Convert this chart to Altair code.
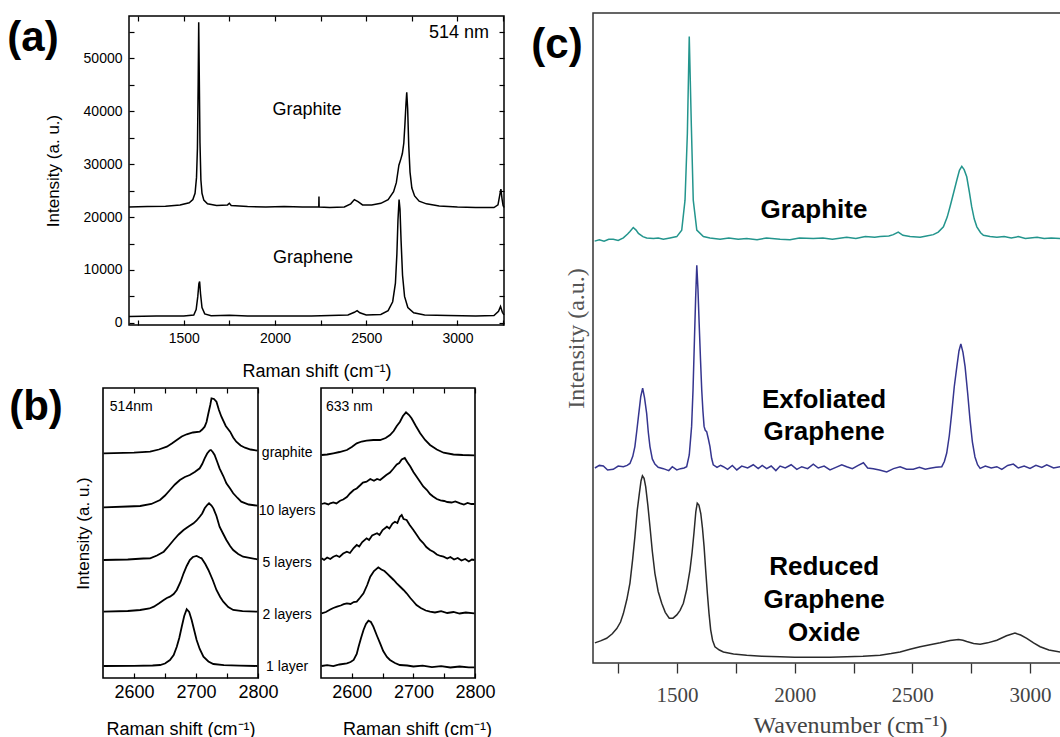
import altair as alt
import pandas as pd

SANS = "Liberation Sans"
SERIF = "Liberation Serif"

# ---------------- Panel (a): 514 nm spectra ----------------
a_graphite = [(1200, 21900), (1300, 22000), (1400, 22050), (1480, 22300), (1530, 22700), (1550, 23300),
              (1562, 24500), (1570, 27500), (1575, 33000), (1579, 45000), (1582, 56800), (1585, 47000),
              (1589, 34000), (1594, 27000), (1600, 24500), (1610, 23200), (1630, 22500), (1680, 22200),
              (1740, 22300), (1750, 22600), (1760, 22200), (1850, 22000), (1950, 21900), (2050, 22000),
              (2150, 21900), (2240, 21900), (2241, 23900), (2242, 21900), (2300, 21800), (2380, 21900),
              (2415, 22500), (2435, 23300), (2455, 22900), (2480, 22300), (2530, 22300), (2580, 22600),
              (2620, 23300), (2650, 24800), (2665, 26500), (2679, 29800), (2690, 31000), (2698, 32000),
              (2706, 34000), (2712, 37500), (2718, 41500), (2722, 43600), (2727, 40500), (2733, 33500),
              (2740, 28500), (2750, 25500), (2765, 24000), (2790, 23000), (2830, 22500), (2900, 22100),
              (3000, 21900), (3100, 21800), (3200, 21800), (3222, 22300), (3232, 24200), (3238, 25300),
              (3244, 23500), (3250, 22200), (3255, 21800)]
a_graphene = [(1200, 1200), (1350, 1300), (1500, 1300), (1555, 1500), (1568, 2500), (1577, 5000),
              (1583, 7400), (1587, 7800), (1592, 5500), (1600, 2900), (1615, 1700), (1650, 1350),
              (1750, 1450), (1850, 1300), (2000, 1300), (2200, 1300), (2400, 1500), (2435, 2000),
              (2450, 2300), (2465, 1900), (2500, 1500), (2580, 1600), (2620, 2300), (2645, 4000),
              (2660, 7500), (2668, 13000), (2674, 19500), (2680, 23300), (2685, 21500), (2691, 15500),
              (2699, 9000), (2710, 5000), (2728, 2900), (2760, 1900), (2820, 1500), (2950, 1400),
              (3100, 1300), (3200, 1400), (3225, 2200), (3236, 3100), (3246, 2000), (3255, 1500)]
a_labels = [("514 nm", 3008, 54790), ("Graphite", 2175, 40220), ("Graphene", 2208, 12270)]
a_xticks = [1250, 1500, 1750, 2000, 2250, 2500, 2750, 3000, 3250]
a_yticks = [0, 5000, 10000, 15000, 20000, 25000, 30000, 35000, 40000, 45000, 50000, 55000]

# ---------------- Panel (b): 2D band, 514 nm and 633 nm ----------------
b514 = {
    "graphite": [(2551, 224.7), (2600, 225.3), (2626, 226.3), (2640, 228.5), (2653, 231.3), (2661, 234.5),
                 (2669, 238), (2677, 241.5), (2685, 243.7), (2695, 245.5), (2706, 246.3), (2710, 248.5),
                 (2714, 251.3), (2717, 256), (2720, 264.7), (2723, 273), (2725, 279.7), (2729, 279),
                 (2733, 276.3), (2737, 268), (2741, 261.3), (2748, 252), (2755, 246.3), (2760, 240.5),
                 (2765, 236.3), (2772, 232.5), (2779, 230.3), (2788, 228.5), (2799, 227.3)],
    "10 layers": [(2551, 170.7), (2590, 171.5), (2610, 172), (2628, 174), (2642, 178), (2650, 182.5),
                  (2658, 188), (2666, 193.5), (2674, 198), (2682, 201), (2690, 203), (2698, 206),
                  (2706, 209.7), (2710, 214), (2714, 219.7), (2718, 224.5), (2722, 227.5), (2724, 228),
                  (2727, 226), (2730, 223), (2734, 216.5), (2738, 209.7), (2744, 202), (2749, 194.7),
                  (2755, 189.5), (2760, 184.7), (2767, 180), (2773, 176.3), (2785, 173.5), (2799, 172.3)],
    "5 layers": [(2551, 118), (2590, 118.5), (2615, 119.5), (2626, 119.7), (2637, 122.5), (2648, 126.3),
                 (2656, 132), (2664, 138), (2672, 143.5), (2680, 148), (2688, 151.5), (2696, 154.7),
                 (2701, 157.5), (2706, 161.3), (2710, 164.5), (2714, 169.7), (2718, 173), (2721, 174.7),
                 (2725, 172.5), (2728, 169.7), (2733, 162), (2738, 151.3), (2744, 144), (2749, 138),
                 (2755, 132), (2760, 128), (2768, 124), (2776, 121.3), (2799, 118.7)],
    "2 layers": [(2551, 66.3), (2590, 67), (2610, 68), (2625, 69.5), (2632, 71.3), (2640, 74.5), (2648, 78),
                 (2653, 80), (2658, 81.3), (2664, 84), (2669, 88), (2675, 96), (2680, 104.7), (2685, 112),
                 (2690, 118), (2695, 121), (2701, 122), (2706, 120.5), (2709, 119.7), (2715, 114),
                 (2720, 108), (2727, 98), (2733, 88), (2739, 81), (2744, 76.3), (2752, 71), (2760, 68),
                 (2775, 66.8), (2799, 66.3)],
    "1 layer": [(2551, 12), (2600, 12.2), (2630, 12.5), (2642, 13), (2650, 14.5), (2658, 18), (2664, 23),
                (2669, 31.3), (2673, 40), (2677, 51.3), (2681, 62), (2685, 68.7), (2689, 66), (2693, 58),
                (2697, 48), (2701, 38), (2706, 29), (2712, 21.3), (2720, 16.5), (2728, 14), (2745, 12.8),
                (2770, 12.3), (2799, 12)],
}
b633 = {
    "graphite": [(2551, 223), (2560, 223.5), (2570, 224.7), (2580, 226), (2592, 228), (2600, 231),
                 (2608, 234.7), (2616, 236.5), (2624, 237.3), (2635, 238), (2646, 238), (2655, 240),
                 (2662, 243), (2668, 247), (2673, 252), (2678, 256), (2683, 262), (2688, 265.7),
                 (2693, 263), (2697, 259.7), (2704, 252), (2711, 244.7), (2719, 238), (2727, 233),
                 (2738, 228.5), (2749, 225.3), (2765, 223.5), (2780, 223), (2799, 222.7)],
    "10 layers": [(2551, 174), (2556, 174.8), (2562, 173.6), (2565, 174.7), (2570, 175.5), (2575, 174.6),
                  (2581, 177.3), (2586, 178.5), (2592, 181), (2597, 184.5), (2603, 188), (2608, 189.5),
                  (2614, 193), (2618, 195.5), (2624, 196.3), (2630, 199), (2636, 197.2), (2641, 199),
                  (2646, 198), (2651, 200.5), (2656, 203), (2662, 205.5), (2667, 209), (2673, 213.5),
                  (2677, 215), (2681, 218.5), (2686, 220), (2690, 216), (2695, 211.5), (2700, 206),
                  (2705, 201.5), (2710, 197), (2716, 191.5), (2722, 188), (2727, 184), (2732, 181.5),
                  (2738, 179), (2744, 177.6), (2750, 177), (2755, 176), (2762, 175.5), (2768, 176.5),
                  (2776, 174.7), (2782, 173.5), (2788, 175), (2794, 174), (2799, 174)],
    "5 layers": [(2551, 119.7), (2555, 118), (2560, 120.5), (2565, 119), (2570, 121.3), (2575, 122.5),
                 (2580, 121), (2586, 124.5), (2592, 126.3), (2597, 125), (2603, 130), (2608, 133),
                 (2612, 131.5), (2617, 136), (2624, 139.7), (2628, 138), (2633, 142.5), (2641, 144.7),
                 (2645, 143), (2650, 148), (2657, 151.3), (2661, 149.5), (2666, 154.5), (2670, 156.3),
                 (2674, 155), (2678, 161.3), (2681, 163), (2684, 159), (2689, 158), (2694, 153),
                 (2700, 148), (2705, 143.5), (2711, 138), (2716, 135), (2721, 131), (2727, 128),
                 (2733, 126), (2738, 123.5), (2744, 122), (2749, 121.3), (2755, 119.5), (2760, 121),
                 (2766, 118.5), (2772, 120), (2778, 117.5), (2784, 119), (2790, 116.5), (2795, 118.5),
                 (2799, 118)],
    "2 layers": [(2551, 64.7), (2558, 66), (2565, 68.5), (2570, 70), (2576, 71.3), (2582, 72.5),
                 (2587, 73.8), (2592, 74.7), (2598, 74), (2603, 76), (2608, 76.3), (2613, 80),
                 (2619, 84.7), (2625, 93), (2630, 101.3), (2636, 107), (2643, 110.7), (2648, 108.5),
                 (2653, 107), (2657, 104.7), (2663, 101), (2668, 98), (2673, 94.7), (2679, 91),
                 (2684, 88), (2689, 84.7), (2695, 80), (2700, 76.5), (2705, 73), (2712, 70), (2720, 67.5),
                 (2727, 66.3), (2735, 65.5), (2745, 66.8), (2755, 65), (2765, 66), (2775, 64.5),
                 (2785, 65.5), (2799, 64.7)],
    "1 layer": [(2551, 12), (2560, 12.8), (2570, 11.8), (2580, 13.5), (2592, 14.7), (2598, 16), (2603, 18),
                (2608, 24), (2611, 31.3), (2615, 40), (2619, 48), (2623, 54), (2627, 57.3), (2631, 56),
                (2635, 51.3), (2641, 42), (2646, 34.7), (2651, 27), (2657, 21), (2662, 18), (2670, 15),
                (2678, 13), (2690, 12.5), (2700, 11.5), (2715, 12.3), (2730, 10.8), (2745, 11.8),
                (2760, 10.5), (2775, 11.5), (2790, 10.7), (2799, 10.7)],
}
b_mid_labels = [("graphite", 2847, 225), ("10 layers", 2847, 167), ("5 layers", 2847, 115),
                ("2 layers", 2847, 63), ("1 layer", 2847, 11)]
b_xticks = [2600, 2650, 2700, 2750, 2800]

# ---------------- Panel (c): graphite / exfoliated graphene / rGO ----------------
c_graphite = [(1150, 64.9), (1170, 65.1), (1190, 64.9), (1210, 65.2), (1229, 65.2), (1250, 65.0), (1272, 65.4),
              (1290, 66.0), (1300, 66.4), (1314, 67.0), (1326, 66.6), (1336, 66.1), (1355, 65.6), (1371, 65.4),
              (1400, 65.3), (1420, 65.4), (1442, 65.2), (1470, 65.4), (1499, 65.6), (1520, 66.6), (1534, 71.2),
              (1544, 81.5), (1552, 96.4), (1561, 82.5), (1569, 71.2), (1584, 66.6), (1612, 65.6), (1640, 65.4),
              (1683, 65.2), (1720, 65.4), (1760, 65.2), (1796, 65.3), (1840, 65.1), (1880, 65.4), (1938, 65.2),
              (1980, 65.1), (2020, 65.4), (2079, 65.3), (2120, 65.4), (2160, 65.2), (2221, 65.5), (2260, 65.3),
              (2300, 65.6), (2340, 65.5), (2363, 65.6), (2400, 65.7), (2419, 65.9), (2440, 66.3), (2460, 65.8),
              (2490, 65.6), (2533, 65.5), (2560, 65.7), (2589, 65.9), (2610, 66.3), (2632, 67.1), (2648, 68.6),
              (2660, 70.2), (2675, 72.3), (2689, 74.3), (2700, 75.8), (2710, 76.4), (2720, 75.9), (2731, 74.8),
              (2742, 72.5), (2752, 70.2), (2763, 68.3), (2774, 67.1), (2790, 66.2), (2802, 65.8), (2830, 65.6),
              (2859, 65.5), (2890, 65.6), (2920, 65.4), (2950, 65.6), (2980, 65.3), (3000, 65.4), (3030, 65.5),
              (3060, 65.3), (3090, 65.4), (3128, 65.3)]
c_exfoliated = [(1151, 30.0), (1170, 30.4), (1187, 30.3), (1205, 29.7), (1229, 29.8), (1250, 30.3), (1272, 30.2),
                (1288, 30.4), (1300, 30.7), (1312, 31.8), (1321, 33.3), (1330, 36.0), (1336, 37.9), (1346, 41.0),
                (1354, 42.3), (1362, 40.8), (1371, 38.4), (1378, 35.5), (1385, 33.3), (1395, 31.4), (1406, 30.6),
                (1420, 30.1), (1442, 29.9), (1465, 29.6), (1480, 30.2), (1499, 29.7), (1515, 29.9), (1530, 30.0),
                (1541, 30.2), (1552, 32.0), (1562, 36.4), (1568, 42.0), (1574, 49.7), (1579, 56.0), (1584, 61.2),
                (1589, 57.5), (1594, 52.3), (1600, 46.5), (1605, 42.0), (1610, 38.8), (1615, 36.4), (1620, 35.8),
                (1626, 35.6), (1633, 34.5), (1640, 33.3), (1647, 31.5), (1654, 30.5), (1670, 30.1), (1685, 30.4),
                (1697, 30.2), (1715, 29.8), (1735, 30.4), (1754, 29.7), (1775, 30.3), (1800, 30.0), (1824, 30.5),
                (1845, 29.9), (1862, 30.4), (1881, 29.9), (1900, 30.3), (1920, 29.6), (1938, 30.3), (1960, 30.0),
                (1985, 30.5), (2009, 29.8), (2030, 30.2), (2055, 29.9), (2079, 30.6), (2100, 30.0), (2125, 30.3),
                (2150, 29.7), (2175, 30.1), (2200, 30.5), (2221, 30.2), (2245, 29.9), (2270, 30.4), (2292, 30.8),
                (2310, 30.0), (2334, 29.9), (2360, 29.7), (2391, 29.4), (2420, 29.9), (2448, 30.2), (2475, 29.8),
                (2504, 29.8), (2530, 30.1), (2555, 29.8), (2575, 29.95), (2600, 30.1), (2625, 30.2), (2636, 31.0),
                (2646, 32.3), (2657, 35.0), (2667, 38.4), (2678, 42.5), (2689, 45.6), (2698, 48.0), (2706, 49.1),
                (2715, 47.8), (2724, 45.6), (2735, 41.5), (2745, 37.4), (2755, 34.0), (2766, 31.7), (2777, 30.5),
                (2788, 29.95), (2810, 30.3), (2835, 30.0), (2859, 30.2), (2880, 29.8), (2905, 30.4), (2929, 30.6),
                (2950, 30.0), (2975, 30.3), (3000, 29.95), (3025, 30.4), (3050, 30.1), (3071, 30.5), (3100, 30.0),
                (3128, 30.2)]
c_rgo = [(1151, 3.1), (1175, 3.4), (1201, 3.8), (1225, 4.5), (1244, 5.3), (1260, 6.3), (1272, 7.6), (1287, 9.8),
         (1300, 12.3), (1311, 15.8), (1321, 19.4), (1331, 23.5), (1340, 26.1), (1347, 28.0), (1353, 28.8),
         (1360, 28.4), (1367, 27.1), (1376, 24.3), (1385, 21.0), (1395, 17.2), (1406, 13.8), (1420, 11.0),
         (1435, 9.2), (1450, 7.8), (1467, 6.9), (1483, 6.9), (1499, 7.4), (1513, 8.1), (1527, 9.2), (1541, 11.3),
         (1555, 14.3), (1564, 17.0), (1572, 20.0), (1580, 23.3), (1586, 24.6), (1593, 24.3), (1601, 23.0),
         (1608, 20.8), (1615, 17.9), (1622, 14.2), (1629, 10.7), (1636, 7.6), (1643, 5.1), (1651, 3.5),
         (1661, 2.5), (1680, 2.0), (1697, 1.7), (1740, 1.4), (1796, 1.2), (1860, 1.05), (1938, 0.97),
         (2000, 0.9), (2079, 0.87), (2150, 0.9), (2221, 0.97), (2290, 1.05), (2363, 1.2), (2410, 1.45),
         (2448, 1.7), (2490, 2.1), (2533, 2.5), (2575, 2.8), (2618, 3.1), (2660, 3.45), (2696, 3.6),
         (2715, 3.5), (2731, 3.3), (2760, 3.0), (2788, 2.9), (2820, 3.1), (2859, 3.5), (2900, 4.2),
         (2936, 4.6), (2960, 4.3), (2986, 3.8), (3015, 3.1), (3043, 2.5), (3080, 2.0), (3128, 1.7)]
c_labels = [("Graphite", 2082, 69.7), ("Exfoliated", 2125, 40.5), ("Graphene", 2125, 35.5),
            ("Reduced", 2125, 14.8), ("Graphene", 2125, 9.7), ("Oxide", 2125, 4.6)]
c_series = ["Graphite", "Exfoliated Graphene", "Reduced Graphene Oxide"]
c_colors = ["#23958d", "#35358f", "#2a2a2a"]
c_xticks = [1250, 1500, 1750, 2000, 2250, 2500, 2750, 3000, 3250]

# ---------------- layout (pixel ranges of each panel) ----------------
A_XD, A_XR, A_YD, A_YR = [1200, 3255], [129, 504], [-400, 58000], [325, 16]
B_XD, BL_XR, BR_XR, B_YD, B_YR = [2550, 2800], [103, 258], [321, 475], [0, 290], [678, 388]
C_XD, C_XR, C_YD, C_YR = [1143, 3327], [593, 1107], [0, 100], [663, 13]


def sc(d, r):
    return alt.Scale(domain=d, range=r, nice=False, zero=False)


def curves(series):
    rows = []
    for name, pts in series.items():
        for x, y in pts:
            rows.append({"x": x, "y": y, "series": name})
    return pd.DataFrame(rows)


def texts(items):
    return pd.DataFrame([{"label": t, "x": x, "y": y} for t, x, y in items])


def frame(xd, yd):
    return pd.DataFrame([{"x0": xd[0], "x1": xd[1], "y0": yd[0], "y1": yd[1]}])


def tick_axis(orient, offset, values, size=5, color="black"):
    return alt.Axis(orient=orient, offset=offset, values=values, labels=False, domain=False, grid=False,
                    tickSize=size, tickColor=color, tickWidth=1.2, title=None)


def text_layer(df, xd, xr, yd, yr, **kw):
    return alt.Chart(df).mark_text(**kw).encode(
        x=alt.X("x:Q", scale=sc(xd, xr), axis=None),
        y=alt.Y("y:Q", scale=sc(yd, yr), axis=None),
        text="label:N")


layers = []

# ---- (a) ----
df_a = curves({"Graphite": a_graphite, "Graphene": a_graphene})
layers.append(alt.Chart(df_a).mark_line(color="black", strokeWidth=1.5).encode(
    x=alt.X("x:Q", scale=sc(A_XD, A_XR),
            axis=alt.Axis(orient="bottom", offset=-417, values=a_xticks, format="d",
                          labelExpr="datum.value % 500 === 0 ? datum.label : ''",
                          tickSize=5, tickColor="black", tickWidth=1.2, domain=False, grid=False,
                          labelFont=SANS, labelFontSize=14, labelColor="black", labelPadding=6,
                          labelOverlap=False, labelFlush=False,
                          title="Raman shift (cm⁻¹)", titleFont=SANS, titleFontSize=18,
                          titleFontWeight="normal", titleColor="black", titlePadding=17)),
    y=alt.Y("y:Q", scale=sc(A_YD, A_YR),
            axis=alt.Axis(orient="left", offset=-134, values=a_yticks, format="d",
                          labelExpr="datum.value % 10000 === 0 ? datum.label : ''",
                          tickSize=5, tickColor="black", tickWidth=1.2, domain=False, grid=False,
                          labelFont=SANS, labelFontSize=14, labelColor="black", labelPadding=7,
                          labelOverlap=False, labelFlush=False,
                          title="Intensity (a. u.)", titleFont=SANS, titleFontSize=17,
                          titleFontWeight="normal", titleColor="black", titlePadding=21)),
    detail="series:N"))
layers.append(alt.Chart(frame(A_XD, A_YD)).mark_rect(fill="transparent", stroke="black", strokeWidth=1.5).encode(
    x=alt.X("x0:Q", scale=sc(A_XD, A_XR), axis=tick_axis("top", -21, a_xticks)), x2="x1:Q",
    y=alt.Y("y0:Q", scale=sc(A_YD, A_YR), axis=tick_axis("right", -561, a_yticks)), y2="y1:Q"))
layers.append(text_layer(texts(a_labels), A_XD, A_XR, A_YD, A_YR, font=SANS, fontSize=18, color="black"))
layers.append(text_layer(texts([("(a)", 674, 53846)]), A_XD, A_XR, A_YD, A_YR,
                         font=SANS, fontSize=42, fontWeight="bold", color="black"))


# ---- (b) ----
def b_bottom_axis(**extra):
    return alt.Axis(orient="bottom", offset=-64, values=b_xticks, format="d",
                    labelExpr="datum.value % 100 === 0 ? datum.label : ''",
                    tickSize=5, tickColor="black", tickWidth=1.2, domain=False, grid=False,
                    labelFont=SANS, labelFontSize=18, labelColor="black", labelPadding=5,
                    labelOverlap=False, labelFlush=False,
                    title="Raman shift (cm⁻¹)", titleFont=SANS, titleFontSize=18,
                    titleFontWeight="normal", titleColor="black", titlePadding=19, **extra)


layers.append(alt.Chart(curves(b514)).mark_line(color="black", strokeWidth=1.8).encode(
    x=alt.X("x:Q", scale=sc(B_XD, BL_XR), axis=b_bottom_axis()),
    y=alt.Y("y:Q", scale=sc(B_YD, B_YR),
            axis=alt.Axis(orient="left", offset=-103, ticks=False, labels=False, domain=False, grid=False,
                          title="Intensity (a. u.)", titleFont=SANS, titleFontSize=17,
                          titleFontWeight="normal", titleColor="black", titlePadding=11)),
    detail="series:N"))
layers.append(alt.Chart(frame(B_XD, B_YD)).mark_rect(fill="transparent", stroke="black", strokeWidth=1.6).encode(
    x=alt.X("x0:Q", scale=sc(B_XD, BL_XR), axis=tick_axis("top", -393, b_xticks)), x2="x1:Q",
    y=alt.Y("y0:Q", scale=sc(B_YD, B_YR), axis=None), y2="y1:Q"))
layers.append(text_layer(texts(b_mid_labels), B_XD, BL_XR, B_YD, B_YR, font=SANS, fontSize=14, color="black"))
layers.append(text_layer(texts([("514nm", 2561, 271)]), B_XD, BL_XR, B_YD, B_YR,
                         font=SANS, fontSize=14, color="black", align="left"))
layers.append(text_layer(texts([("(b)", 2442, 271)]), B_XD, BL_XR, B_YD, B_YR,
                         font=SANS, fontSize=42, fontWeight="bold", color="black"))

layers.append(alt.Chart(curves(b633)).mark_line(color="black", strokeWidth=1.8).encode(
    x=alt.X("x:Q", scale=sc(B_XD, BR_XR), axis=b_bottom_axis(titleX=417)),
    y=alt.Y("y:Q", scale=sc(B_YD, B_YR), axis=None),
    detail="series:N"))
layers.append(alt.Chart(frame(B_XD, B_YD)).mark_rect(fill="transparent", stroke="black", strokeWidth=1.6).encode(
    x=alt.X("x0:Q", scale=sc(B_XD, BR_XR), axis=tick_axis("top", -393, b_xticks)), x2="x1:Q",
    y=alt.Y("y0:Q", scale=sc(B_YD, B_YR), axis=None), y2="y1:Q"))
layers.append(text_layer(texts([("633 nm", 2558, 271)]), B_XD, BR_XR, B_YD, B_YR,
                         font=SANS, fontSize=14, color="black", align="left"))

# ---- (c) ----
df_c = curves({c_series[0]: c_graphite, c_series[1]: c_exfoliated, c_series[2]: c_rgo})
layers.append(alt.Chart(df_c).mark_line(strokeWidth=1.5).encode(
    x=alt.X("x:Q", scale=sc(C_XD, C_XR),
            axis=alt.Axis(orient="bottom", offset=-74, values=c_xticks, format="d",
                          labelExpr="datum.value % 500 === 0 ? datum.label : ''",
                          tickSize=10, tickColor="#333333", tickWidth=1.3, domain=False, grid=False,
                          labelFont=SERIF, labelFontSize=21, labelColor="#444444", labelPadding=11,
                          labelOverlap=False, labelFlush=False,
                          title="Wavenumber (cm⁻¹)", titleFont=SERIF, titleFontSize=24,
                          titleFontWeight="normal", titleColor="#444444", titlePadding=8)),
    y=alt.Y("y:Q", scale=sc(C_YD, C_YR),
            axis=alt.Axis(orient="left", offset=-593, ticks=False, labels=False, domain=False, grid=False,
                          title="Intensity (a.u.)", titleFont=SERIF, titleFontSize=24,
                          titleFontWeight="normal", titleColor="#555555", titlePadding=5)),
    color=alt.Color("series:N", scale=alt.Scale(domain=c_series, range=c_colors), legend=None),
    detail="series:N"))
layers.append(alt.Chart(frame(C_XD, C_YD)).mark_rect(fill="transparent", stroke="#333333", strokeWidth=1.5).encode(
    x=alt.X("x0:Q", scale=sc(C_XD, C_XR), axis=None), x2="x1:Q",
    y=alt.Y("y0:Q", scale=sc(C_YD, C_YR), axis=None), y2="y1:Q"))
layers.append(text_layer(texts(c_labels), C_XD, C_XR, C_YD, C_YR,
                         font=SANS, fontSize=26, fontWeight="bold", color="black"))
layers.append(text_layer(texts([("(c)", 990, 95.1)]), C_XD, C_XR, C_YD, C_YR,
                         font=SANS, fontSize=42, fontWeight="bold", color="black"))

chart = alt.layer(*layers).resolve_scale(
    x="independent", y="independent", color="independent"
).resolve_axis(
    x="independent", y="independent"
).properties(
    width=1060, height=737, padding=0, autosize=alt.AutoSizeParams(type="none"),
    background="white"
).configure_view(strokeWidth=0)

chart.save("out.html", embed_options={"renderer": "svg", "actions": False})
